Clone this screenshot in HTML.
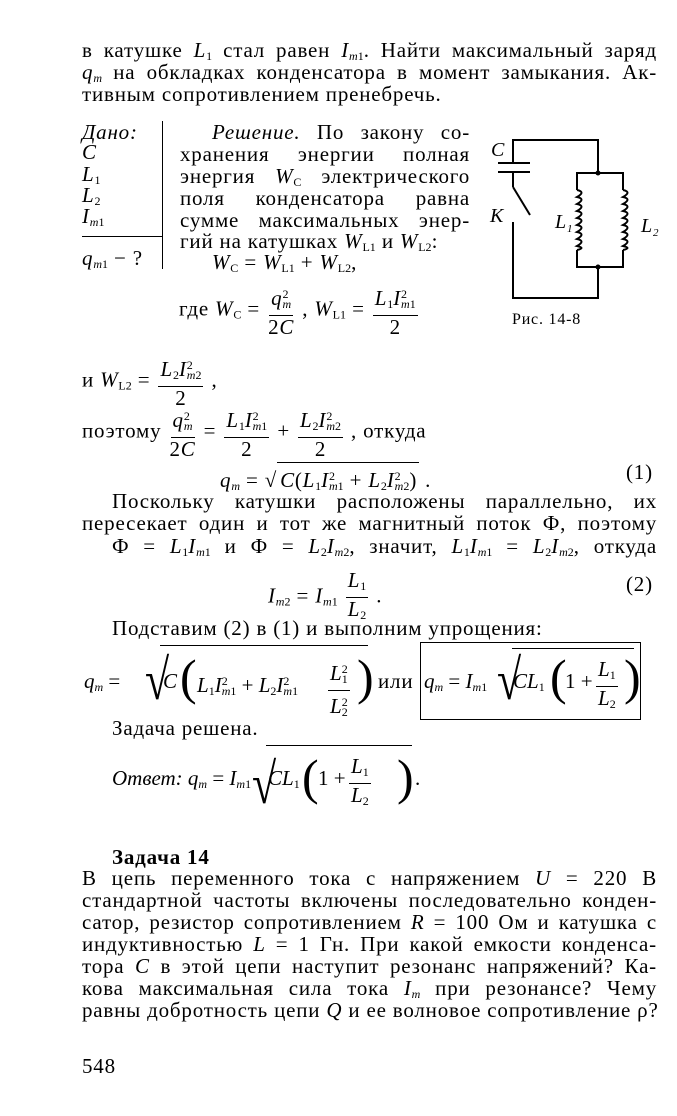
<!DOCTYPE html>
<html><head><meta charset="utf-8"><style>
body{margin:0;background:#fff;}
#p{position:relative;width:677px;height:1116px;overflow:hidden;font-family:"Liberation Serif",serif;font-size:21px;letter-spacing:0.8px;color:#000;}
.a{position:absolute;white-space:nowrap;line-height:22px;}
.f{letter-spacing:0;}
.j{position:absolute;left:82px;width:575px;text-align:justify;text-align-last:justify;line-height:22px;white-space:nowrap;}
i{font-style:italic;}
sub{font-size:12px;vertical-align:-3px;letter-spacing:0;}
sup{font-size:12px;vertical-align:7px;letter-spacing:0;}
.fr{display:inline-flex;flex-direction:column;align-items:center;vertical-align:middle;line-height:22px;margin:0 2px;}
.fr>span:first-child{border-bottom:1.4px solid #000;padding:0 2px;}
.sq{display:inline-block;border-top:1.4px solid #000;padding:2px 2px 0 3px;}
.rad{font-size:44px;line-height:40px;vertical-align:middle;transform:scaleY(1.3);display:inline-block;}
</style></head><body><div id="p">

<div class="j" style="top:39px">в катушке <i>L</i><sub>1</sub> стал равен <i>I</i><sub><i>m</i>1</sub>. Найти максимальный заряд</div>
<div class="j" style="top:61px"><i>q<sub>m</sub></i> на обкладках конденсатора в момент замыкания. Ак-</div>
<div class="a" style="top:83px;left:82px">тивным сопротивлением пренебречь.</div>

<div class="a" style="top:121px;left:82px"><i>Дано:</i></div>
<div class="a" style="top:141px;left:82px"><i>C</i></div>
<div class="a" style="top:163px;left:82px"><i>L</i><sub>1</sub></div>
<div class="a" style="top:184px;left:82px"><i>L</i><sub>2</sub></div>
<div class="a" style="top:205px;left:82px"><i>I</i><sub><i>m</i>1</sub></div>
<div style="position:absolute;left:82px;top:236px;width:80px;border-top:1.5px solid #000"></div>
<div class="a" style="top:247px;left:82px"><i>q</i><sub><i>m</i>1</sub> − ?</div>
<div style="position:absolute;left:162px;top:121px;height:148px;border-left:1.5px solid #000"></div>

<div class="a" style="top:121px;left:212px;width:258px;text-align:justify;text-align-last:justify"><i>Решение.</i> По закону со-</div>
<div class="a" style="top:143px;left:180px;width:290px;text-align:justify;text-align-last:justify">хранения энергии полная</div>
<div class="a" style="top:165px;left:180px;width:290px;text-align:justify;text-align-last:justify">энергия <i>W</i><sub>C</sub> электрического</div>
<div class="a" style="top:187px;left:180px;width:290px;text-align:justify;text-align-last:justify">поля конденсатора равна</div>
<div class="a" style="top:209px;left:180px;width:290px;text-align:justify;text-align-last:justify">сумме максимальных энер-</div>
<div class="a" style="top:230px;left:180px">гий на катушках <i>W</i><sub>L1</sub> и <i>W</i><sub>L2</sub>:</div>
<div class="a" style="top:251px;left:212px"><i>W</i><sub>C</sub> = <i>W</i><sub>L1</sub> + <i>W</i><sub>L2</sub>,</div>

<div class="a" style="top:283px;left:179px">где <i>W</i><sub>C</sub> = <span class="fr"><span><i>q</i><sup>2</sup><sub style="margin-left:-6px"><i>m</i></sub></span><span>2<i>C</i></span></span> , <i>W</i><sub>L1</sub> = <span class="fr"><span><i>L</i><sub>1</sub><i>I</i><sup>2</sup><sub style="margin-left:-6px"><i>m</i>1</sub></span><span>2</span></span></div>

<svg style="position:absolute;left:0;top:0" width="677" height="340">
<g stroke="#000" stroke-width="2" fill="none">
<polyline points="513,163 513,140 598,140 598,173"/>
<line x1="498" y1="163" x2="530" y2="163"/><line x1="498" y1="172" x2="530" y2="172"/>
<line x1="513" y1="172" x2="513" y2="187"/><line x1="513" y1="187" x2="530" y2="215"/>
<polyline points="513,222 513,298 598,298 598,267"/>
<polyline points="577,190 577,173 623,173 623,190"/>
<polyline points="577,250 577,267 623,267 623,250"/>
<path d="M577,190 q9,2 0,7 q9,2 0,7 q9,2 0,7 q9,2 0,7 q9,2 0,7 q9,2 0,7 q9,2 0,7 q9,2 0,7 q9,2 0,4"/>
<path d="M623,190 q9,2 0,7 q9,2 0,7 q9,2 0,7 q9,2 0,7 q9,2 0,7 q9,2 0,7 q9,2 0,7 q9,2 0,7 q9,2 0,4"/>
</g>
<circle cx="598" cy="173" r="2.5" fill="#000"/><circle cx="598" cy="267" r="2.5" fill="#000"/>
<g font-family="Liberation Serif" font-style="italic" font-size="20" fill="#000">
<text x="491" y="156">C</text><text x="490" y="222">K</text>
<text x="555" y="228">L<tspan font-size="11" dy="4">1</tspan></text>
<text x="641" y="232">L<tspan font-size="11" dy="4">2</tspan></text>
</g>
<text x="512" y="324" font-family="Liberation Serif" font-size="16" fill="#000">Рис. 14-8</text>
</svg>

<div class="a" style="top:354px;left:82px">и <i>W</i><sub>L2</sub> = <span class="fr"><span><i>L</i><sub>2</sub><i>I</i><sup>2</sup><sub style="margin-left:-6px"><i>m</i>2</sub></span><span>2</span></span> ,</div>

<div class="a" style="top:405px;left:82px">поэтому <span class="fr"><span><i>q</i><sup>2</sup><sub style="margin-left:-6px"><i>m</i></sub></span><span>2<i>C</i></span></span> = <span class="fr"><span><i>L</i><sub>1</sub><i>I</i><sup>2</sup><sub style="margin-left:-6px"><i>m</i>1</sub></span><span>2</span></span> + <span class="fr"><span><i>L</i><sub>2</sub><i>I</i><sup>2</sup><sub style="margin-left:-6px"><i>m</i>2</sub></span><span>2</span></span> , откуда</div>

<div class="a" style="top:462px;left:220px"><i>q<sub>m</sub></i> = √<span class="sq"><i>C</i>(<i>L</i><sub>1</sub><i>I</i><sup>2</sup><sub style="margin-left:-6px"><i>m</i>1</sub> + <i>L</i><sub>2</sub><i>I</i><sup>2</sup><sub style="margin-left:-6px"><i>m</i>2</sub>)</span> .</div>
<div class="a" style="top:461px;left:626px">(1)</div>

<div class="j" style="top:490px;left:112px;width:545px">Поскольку катушки расположены параллельно, их</div>
<div class="j" style="top:512px">пересекает один и тот же магнитный поток Ф, поэтому</div>
<div class="a" style="top:535px;left:112px;width:545px;text-align:justify;text-align-last:justify">Ф = <i>L</i><sub>1</sub><i>I</i><sub><i>m</i>1</sub> и Ф = <i>L</i><sub>2</sub><i>I</i><sub><i>m</i>2</sub>, значит, <i>L</i><sub>1</sub><i>I</i><sub><i>m</i>1</sub> = <i>L</i><sub>2</sub><i>I</i><sub><i>m</i>2</sub>, откуда</div>

<div class="a" style="top:569px;left:268px"><i>I</i><sub><i>m</i>2</sub> = <i>I</i><sub><i>m</i>1</sub> <span class="fr"><span><i>L</i><sub>1</sub></span><span><i>L</i><sub>2</sub></span></span> .</div>
<div class="a" style="top:573px;left:626px">(2)</div>

<div class="a" style="top:617px;left:112px">Подставим (2) в (1) и выполним упрощения:</div>

<div class="a f" style="top:670px;left:84px"><i>q<sub>m</sub></i> = </div>
<div class="a" style="top:641px;left:145px;height:76px;line-height:76px"><span class="rad">√</span></div>
<div style="position:absolute;left:160px;top:645px;width:208px;border-top:1.4px solid #000"></div>
<div class="a f" style="top:670px;left:163px"><i>C</i></div>
<div class="a" style="top:652px;left:180px;font-size:50px;line-height:50px;font-weight:lighter">(</div>
<div class="a f" style="top:670px;left:197px"><i>L</i><sub>1</sub><i>I</i><sup>2</sup><sub style="margin-left:-6px"><i>m</i>1</sub> + <i>L</i><sub>2</sub><i>I</i><sup>2</sup><sub style="margin-left:-6px"><i>m</i>1</sub></div>
<div class="a f" style="top:658px;left:326px;line-height:22px"><span class="fr"><span><i>L</i><sup>2</sup><sub style="margin-left:-6px">1</sub></span><span><i>L</i><sup>2</sup><sub style="margin-left:-6px">2</sub></span></span></div>
<div class="a" style="top:652px;left:357px;font-size:50px;line-height:50px;font-weight:lighter">)</div>
<div class="a" style="top:670px;left:378px">или</div>
<div style="position:absolute;left:420px;top:642px;width:219px;height:76px;border:1.5px solid #000"></div>
<div class="a f" style="top:670px;left:424px"><i>q<sub>m</sub></i> = <i>I</i><sub><i>m</i>1</sub></div>
<div class="a" style="top:641px;left:497px;line-height:76px"><span class="rad">√</span></div>
<div style="position:absolute;left:512px;top:648px;width:122px;border-top:1.4px solid #000"></div>
<div class="a f" style="top:670px;left:513px"><i>CL</i><sub>1</sub></div>
<div class="a" style="top:652px;left:550px;font-size:50px;line-height:50px;font-weight:lighter">(</div>
<div class="a f" style="top:670px;left:565px">1 +</div>
<div class="a f" style="top:658px;left:594px"><span class="fr"><span><i>L</i><sub>1</sub></span><span><i>L</i><sub>2</sub></span></span></div>
<div class="a" style="top:652px;left:624px;font-size:50px;line-height:50px;font-weight:lighter">)</div>

<div class="a" style="top:717px;left:112px">Задача решена.</div>

<div class="a f" style="top:767px;left:112px"><i>Ответ:</i> <i>q<sub>m</sub></i> = <i>I</i><sub><i>m</i>1</sub></div>
<div class="a" style="top:745px;left:252px;line-height:76px"><span class="rad">√</span></div>
<div style="position:absolute;left:266px;top:745px;width:146px;border-top:1.4px solid #000"></div>
<div class="a f" style="top:767px;left:268px"><i>CL</i><sub>1</sub></div>
<div class="a" style="top:752px;left:302px;font-size:50px;line-height:50px;font-weight:lighter">(</div>
<div class="a f" style="top:767px;left:318px">1 +</div>
<div class="a f" style="top:755px;left:347px"><span class="fr"><span><i>L</i><sub>1</sub></span><span><i>L</i><sub>2</sub></span></span></div>
<div class="a" style="top:752px;left:397px;font-size:50px;line-height:50px;font-weight:lighter">)</div>
<div class="a" style="top:767px;left:415px">.</div>

<div class="a" style="top:846px;left:112px;font-weight:bold">Задача 14</div>
<div class="j" style="top:867px">В цепь переменного тока с напряжением <i>U</i> = 220 В</div>
<div class="j" style="top:889px">стандартной частоты включены последовательно конден-</div>
<div class="j" style="top:911px">сатор, резистор сопротивлением <i>R</i> = 100 Ом и катушка с</div>
<div class="j" style="top:933px">индуктивностью <i>L</i> = 1 Гн. При какой емкости конденса-</div>
<div class="j" style="top:955px">тора <i>C</i> в этой цепи наступит резонанс напряжений? Ка-</div>
<div class="j" style="top:977px">кова максимальная сила тока <i>I<sub>m</sub></i> при резонансе? Чему</div>
<div class="j" style="top:999px">равны добротность цепи <i>Q</i> и ее волновое сопротивление ρ?</div>

<div class="a" style="top:1055px;left:82px">548</div>
</div></body></html>
